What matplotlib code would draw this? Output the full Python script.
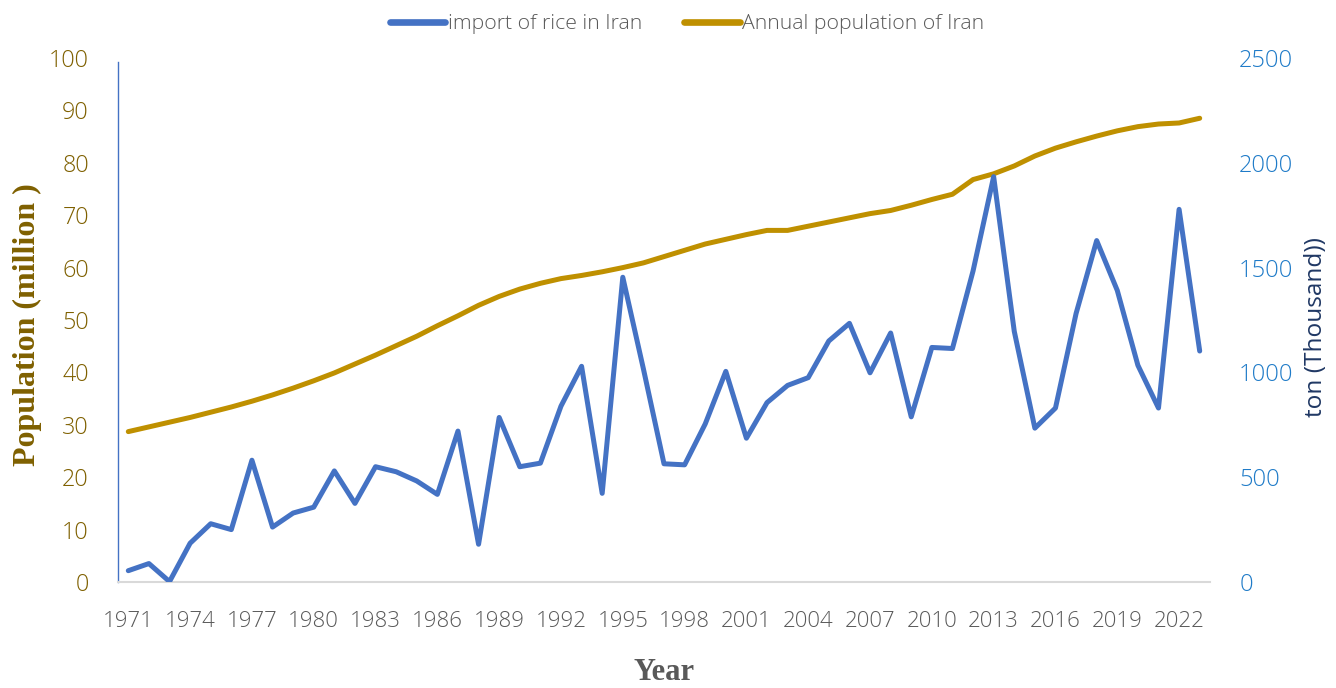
import matplotlib
matplotlib.use("Agg")
import matplotlib.pyplot as plt
from matplotlib.lines import Line2D

years = list(range(1971, 2024))

rice_import = [54, 88, 2, 185, 278, 250, 581, 262, 329, 357,
               530, 375, 550, 526, 482, 418, 720, 180, 785, 550,
               567, 839, 1029, 423, 1454, 1017, 564, 559, 754, 1005,
               686, 856, 938, 975, 1150, 1234, 998, 1188, 788, 1119,
               1114, 1484, 1934, 1196, 734, 830, 1281, 1629, 1391, 1034,
               830, 1778, 1102]

population = [28.7, 29.6, 30.5, 31.4, 32.4, 33.4, 34.5, 35.7, 37.0, 38.4,
              39.9, 41.6, 43.3, 45.1, 46.9, 48.9, 50.8, 52.8, 54.5, 55.9,
              57.0, 57.9, 58.5, 59.2, 60.0, 60.9, 62.1, 63.3, 64.5, 65.4,
              66.3, 67.1, 67.1, 67.9, 68.7, 69.5, 70.3, 70.9, 71.9, 73.0,
              74.0, 76.8, 77.9, 79.4, 81.3, 82.8, 84.0, 85.1, 86.1, 86.9,
              87.4, 87.6, 88.5]

left_ticks = [0, 10, 20, 30, 40, 50, 60, 70, 80, 90, 100]
right_ticks = [0, 500, 1000, 1500, 2000, 2500]
x_tick_years = list(range(1971, 2024, 3))

BLUE = "#4472C4"
GOLD = "#BF9000"
LEFT_COL = "#7F6000"
RIGHT_COL = "#1F7BC8"
RIGHT_LAB = "#203864"
GRAY = "#595959"
FONT = "Open Sans"

fig = plt.figure(figsize=(13.36, 6.88), dpi=100)
ax1 = fig.add_axes([118/1336, 1-582/688, (1210-118)/1336, (582-58)/688])
ax2 = ax1.twinx()

ax1.plot(years, population, color=GOLD, lw=3.6, solid_capstyle="round", zorder=3)
ax2.plot(years, rice_import, color=BLUE, lw=3.6, solid_capstyle="round", zorder=2)

ax1.set_xlim(1970.5, 2023.5)
ax1.set_ylim(0, 100)
ax2.set_ylim(0, 2500)

ax1.set_yticks(left_ticks)
ax2.set_yticks(right_ticks)
ax1.set_xticks(x_tick_years)
ax1.set_xticklabels([str(y) for y in x_tick_years], fontsize=16, color=GRAY,
                    family=FONT, fontweight="light")
ax1.set_yticklabels([str(v) for v in left_ticks], fontsize=16.8, color=LEFT_COL,
                    family=FONT, fontweight="light")
ax2.set_yticklabels([str(v) for v in right_ticks], fontsize=17, color=RIGHT_COL,
                    family=FONT, fontweight="light")

ax1.tick_params(axis="both", length=0)
ax1.tick_params(axis="y", pad=21)
ax1.tick_params(axis="x", pad=21)
ax2.tick_params(axis="y", length=0, pad=21)

for ax in (ax1, ax2):
    for s in ("top", "right", "left", "bottom"):
        ax.spines[s].set_visible(False)
ax1.spines["left"].set_visible(True)
ax1.spines["left"].set_color(BLUE)
ax1.spines["left"].set_linewidth(1.0)
ax1.spines["left"].set_bounds(0, 99.2)
ax1.spines["bottom"].set_visible(True)
ax1.spines["bottom"].set_color("#D9D9D9")
ax1.spines["bottom"].set_linewidth(1.5)

fig.text(27/1336, 1-325/688, "Population (million )", rotation=90, ha="center", va="center",
         fontsize=23, fontweight="bold", family="Liberation Serif", color=LEFT_COL)
fig.text(1316/1336, 1-327/688, "ton (Thousand))", rotation=90, ha="center", va="center",
         fontsize=17.6, family=FONT, color=RIGHT_LAB)
fig.text(664/1336, 1-672/688, "Year", ha="center", va="center",
         fontsize=22, fontweight="bold", family="Liberation Serif", color=GRAY)

handles = [Line2D([], [], color=BLUE, lw=4.8, solid_capstyle="round"),
           Line2D([], [], color=GOLD, lw=4.8, solid_capstyle="round")]
leg = fig.legend(handles, ["import of rice in Iran", "Annual population of Iran"],
                 loc="center", bbox_to_anchor=(687/1336, 1-24/688), ncol=2, frameon=False,
                 handlelength=2.6, handletextpad=0.12, columnspacing=2.0,
                 prop={"family": FONT, "size": 15.3, "weight": "light"})
for t in leg.get_texts():
    t.set_color(GRAY)

fig.savefig("out.png", dpi=100)
